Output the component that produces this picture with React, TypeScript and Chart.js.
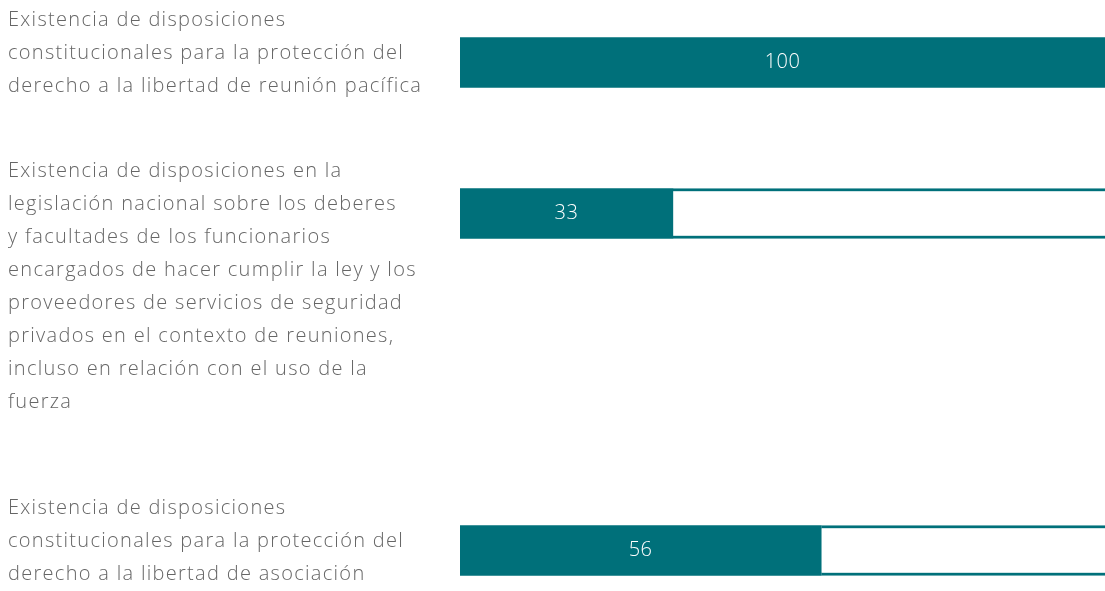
import React, { useEffect, useRef } from "react";
import { Chart, registerables } from "chart.js";

Chart.register(...registerables);

// ---- data ----
const categories: string[][] = [
  [
    "Existencia de disposiciones",
    "constitucionales para la protección del",
    "derecho a la libertad de reunión pacífica",
  ],
  [
    "Existencia de disposiciones en la",
    "legislación nacional sobre los deberes",
    "y facultades de los funcionarios",
    "encargados de hacer cumplir la ley y los",
    "proveedores de servicios de seguridad",
    "privados en el contexto de reuniones,",
    "incluso en relación con el uso de la",
    "fuerza",
  ],
  [
    "Existencia de disposiciones",
    "constitucionales para la protección del",
    "derecho a la libertad de asociación",
  ],
];
const values: number[] = [100, 33, 56];
const maxValue = 100;

// ---- layout / style ----
const W = 1105;
const H = 591;
const TEXT_LINE_H = 33; // drawn line spacing
const ROW_LINE_H = 37.2; // vertical room reserved per label line
const ROW_GAP = 39.4; // extra room between rows
const FIRST_ROW_TOP = 3.5;
const BAR_H = 50;
const BAR_TOP_OFFSET = 34;
const LABEL_X = 8;
const PLOT_LEFT = 460;
const TEAL = "#00707a";
const TEXT = "#666666";
const FONT = "'Open Sans', 'Noto Sans', sans-serif";
const FONT_SIZE = 20;
const LETTER_SPACING = "1.3px";

function rowTops(): number[] {
  const out: number[] = [];
  let acc = FIRST_ROW_TOP;
  categories.forEach((c) => {
    out.push(acc);
    acc += c.length * ROW_LINE_H + ROW_GAP;
  });
  return out;
}

export default function App() {
  const ref = useRef<HTMLCanvasElement | null>(null);

  useEffect(() => {
    if (!ref.current) return;
    const rowTop = rowTops();
    const barCenters = rowTop.map((t) => t + BAR_TOP_OFFSET + BAR_H / 2);

    const labelPlugin = {
      id: "rowLabels",
      afterDraw(chart: any) {
        const ctx = chart.ctx;
        const yScale = chart.scales.y;
        ctx.save();
        ctx.fillStyle = TEXT;
        ctx.font = `300 ${FONT_SIZE}px ${FONT}`;
        (ctx as any).letterSpacing = LETTER_SPACING;
        ctx.textAlign = "left";
        ctx.textBaseline = "middle";
        categories.forEach((lines, i) => {
          lines.forEach((line, j) => {
            const y = yScale.getPixelForValue(rowTop[i] + TEXT_LINE_H / 2 + j * TEXT_LINE_H);
            ctx.fillText(line, LABEL_X, y);
          });
        });
        ctx.restore();
      },
    };

    const valuePlugin = {
      id: "valueLabels",
      afterDatasetsDraw(chart: any) {
        const ctx = chart.ctx;
        const meta = chart.getDatasetMeta(0);
        ctx.save();
        ctx.fillStyle = "#ffffff";
        ctx.font = `300 ${FONT_SIZE}px ${FONT}`;
        (ctx as any).letterSpacing = "0.5px";
        ctx.textAlign = "center";
        ctx.textBaseline = "middle";
        meta.data.forEach((bar: any, i: number) => {
          const p = bar.getProps(["x", "base", "y"], true);
          ctx.fillText(String(values[i]), (p.x + p.base) / 2, p.y);
        });
        ctx.restore();
      },
    };

    const chart = new Chart(ref.current, {
      type: "bar",
      data: {
        datasets: [
          {
            data: values.map((v, i) => ({ x: v, y: barCenters[i] })),
            backgroundColor: TEAL,
            borderWidth: 0,
            barThickness: BAR_H,
          },
          {
            data: values.map((v, i) => ({ x: maxValue - v > 0 ? maxValue - v : null, y: barCenters[i] })),
            backgroundColor: "#ffffff",
            borderColor: TEAL,
            borderWidth: { top: 3, bottom: 3, left: 0, right: 0 },
            borderSkipped: false,
            barThickness: BAR_H,
          },
        ] as any,
      },
      options: {
        indexAxis: "y",
        animation: false,
        responsive: false,
        devicePixelRatio: 1,
        layout: { padding: { left: PLOT_LEFT, top: 0, right: 0, bottom: 0 } },
        plugins: {
          legend: { display: false },
          tooltip: { enabled: false },
        },
        scales: {
          x: {
            type: "linear",
            stacked: true,
            min: 0,
            max: maxValue,
            offset: false,
            display: false,
          },
          y: {
            type: "linear",
            stacked: true,
            reverse: true,
            min: 0,
            max: H,
            offset: false,
            grace: 0,
            display: false,
          },
        },
      } as any,
      plugins: [valuePlugin, labelPlugin],
    });
    return () => chart.destroy();
  }, []);

  return (
    <div style={{ position: "fixed", left: 0, top: 0, width: W, height: H, overflow: "hidden", background: "#fff" }}>
      <canvas ref={ref} width={W} height={H} style={{ display: "block" }} />
    </div>
  );
}
